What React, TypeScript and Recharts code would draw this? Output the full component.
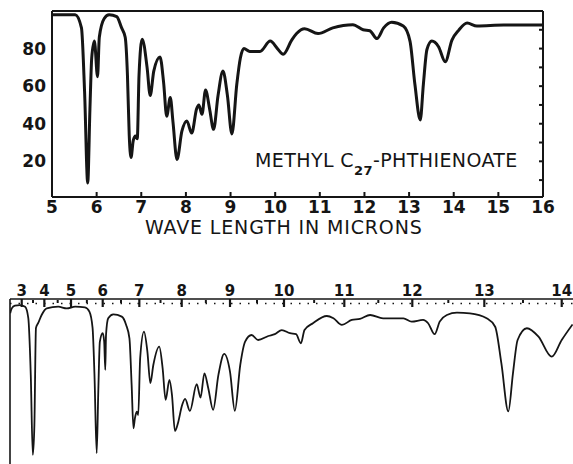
import { LineChart, Line, XAxis, YAxis, ReferenceLine } from "recharts";

// upper trace: methyl C27-phthienoate, linear wavelength scale
const topWave = [
  5.0, 5.3, 5.52, 5.66, 5.73, 5.8, 5.85, 5.89, 5.95, 6.02, 6.06, 6.17, 6.28, 6.45, 6.56, 6.64,
  6.69, 6.73, 6.77, 6.82, 6.87, 6.91, 6.95, 7.02, 7.13, 7.2, 7.28, 7.42, 7.5, 7.57, 7.65, 7.71,
  7.8, 7.91, 8.02, 8.13, 8.24, 8.29, 8.36, 8.44, 8.53, 8.62, 8.72, 8.83, 8.93, 9.03, 9.14, 9.22,
  9.3, 9.43, 9.66, 9.89, 10.05, 10.18, 10.37, 10.48, 10.66, 10.96, 11.29, 11.74, 11.97, 12.12,
  12.28, 12.43, 12.61, 12.87, 13.02, 13.13, 13.25, 13.32, 13.4, 13.51, 13.66, 13.81, 13.96,
  14.11, 14.3, 14.52, 15.12, 16.0,
];
const topT = [
  98, 98, 98, 91, 57, 8.5, 48, 75, 84, 65, 86, 96, 98, 97, 91, 86,
  66, 34, 22, 31, 33.5, 32, 66, 85, 70, 55, 68, 75.5, 62, 44, 54, 41,
  21, 36, 41.5, 35, 48, 50, 45, 58, 48, 37, 55, 68, 55, 34.5, 61, 75,
  80, 78.5, 78.5, 84, 80, 77, 84.5, 88, 90.5, 88, 91, 92.7, 90, 89.5,
  85.3, 91, 94, 92, 84, 61, 42, 61, 79.5, 84, 81, 73, 84.5,
  89.7, 93.6, 92, 92.5, 92.5,
];

// lower trace: same ester, prism instrument
const lowWave = [
  2.49, 2.56, 2.7, 2.92, 3.15, 3.29, 3.4, 3.49, 3.56, 3.63, 3.73, 3.88, 4.09, 4.52, 4.84, 5.13,
  5.44, 5.58, 5.68, 5.74, 5.81, 5.86, 5.91, 6.0, 6.04, 6.07, 6.09, 6.15, 6.29, 6.52, 6.64, 6.73,
  6.79, 6.84, 6.88, 6.93, 6.97, 7.02, 7.11, 7.19, 7.26, 7.33, 7.47, 7.55, 7.62, 7.71, 7.77, 7.84,
  7.92, 8.0, 8.07, 8.17, 8.31, 8.39, 8.47, 8.55, 8.65, 8.76, 8.88, 9.0, 9.09, 9.19, 9.28, 9.4,
  9.52, 9.71, 9.83, 9.96, 10.1, 10.2, 10.28, 10.34, 10.48, 10.71, 10.82, 10.96, 11.11, 11.23,
  11.38, 11.57, 11.87, 11.99, 12.15, 12.22, 12.31, 12.38, 12.48, 12.62, 12.8, 13.03, 13.14,
  13.22, 13.31, 13.37, 13.43, 13.55, 13.7, 13.87, 14.0, 14.14,
];
const lowT = [
  94, 97, 98.6, 99, 98, 91.2, 56.8, 8.5, 26.6, 85.2, 88.2, 93, 97, 98, 97, 98,
  97.6, 95, 85.2, 56.8, 9.5, 46.7, 76.9, 82, 76.9, 59.8, 80.9, 91, 93.4, 92, 87, 78.9,
  50.8, 24.6, 30.7, 34.6, 32.6, 67, 82.9, 70.9, 51.8, 62.8, 73.9, 60.8, 41.7, 53.8, 44.7, 23,
  28.6, 37.7, 42.3, 35.1, 51.2, 43.1, 57.8, 48.8, 35.7, 56.8, 69.5, 58.8, 35.1, 62.8, 76.9, 80.9,
  77.9, 80.3, 81.4, 83.9, 82, 81.4, 75.9, 83.9, 88, 92.4, 91, 87, 90, 90.6,
  93, 91, 91, 89, 90, 88, 81.4, 89, 93, 94.4, 94, 91, 85.9,
  63.9, 34.8, 57.8, 77.9, 85, 79.9, 67.8, 77.9, 87.3,
];

// prism drum calibration (wavelength -> drum reading, 3 µ = 0, 14 µ = 100)
const calWave = [3, 4, 5, 6, 7, 8, 9, 10, 11, 12, 13, 14];
const calDrum = [0, 4.19, 9.13, 15.0, 21.78, 29.63, 38.57, 48.57, 59.74, 72.33, 85.67, 100];

const topTicks = [5, 6, 7, 8, 9, 10, 11, 12, 13, 14, 15, 16];
const pctTicks = [10, 20, 30, 40, 50, 60, 70, 80, 90];
const lowTickWaves = [3, 3.5, 4, 4.5, 5, 5.5, 6, 6.5, 7, 7.5, 8, 8.5, 9, 9.5, 10, 10.5, 11, 11.5, 12, 12.5, 13, 13.5, 14];

function interp(v: number, xs: number[], ys: number[]) {
  let i = 0;
  while (i < xs.length - 2 && v > xs[i + 1]) i++;
  const f = (v - xs[i]) / (xs[i + 1] - xs[i]);
  return ys[i] + f * (ys[i + 1] - ys[i]);
}
const toDrum = (w: number) => interp(w, calWave, calDrum);
const fromDrum = (d: number) => interp(d, calDrum, calWave);

const topData = topWave.map((w, i) => ({ w, t: topT[i] }));
const lowData = lowWave.map((w, i) => ({ d: toDrum(w), t: lowT[i] }));
const lowTicks = lowTickWaves.map(toDrum);

const FONT = "'DejaVu Sans', sans-serif";
const INK = "#151515";

// label below the axis, small mark pointing up into the plot
function MicronTick(props: any) {
  const { x, y, payload } = props;
  return (
    <g>
      <line x1={x} x2={x} y1={y - 3} y2={y - 8} stroke={INK} strokeWidth={2} />
      <text x={x} y={y + 12.5} textAnchor="middle" fontFamily={FONT} fontWeight="bold" fontSize={17} fill={INK}>
        {payload.value}
      </text>
    </g>
  );
}

function DrumTick(props: any) {
  const { x, y, payload } = props;
  const w = Math.round(fromDrum(payload.value) * 2) / 2;
  if (w % 1 !== 0) {
    return <line x1={x} x2={x} y1={y + 1} y2={y + 4} stroke={INK} strokeWidth={2} />;
  }
  return (
    <g>
      <line x1={x} x2={x} y1={y} y2={y + 8} stroke={INK} strokeWidth={2.2} />
      <text x={x} y={y - 3} textAnchor="middle" fontFamily={FONT} fontWeight="bold" fontSize={15} fill={INK}>
        {w}
      </text>
    </g>
  );
}

export default function App() {
  return (
    <div style={{ position: "absolute", left: 0, top: 0, width: 573, height: 464, overflow: "hidden", background: "#fff" }}>
      <div style={{ position: "absolute", left: 0, top: 0 }}>
        <LineChart width={573} height={240} data={topData} margin={{ top: 11, right: 30, bottom: 0, left: 0 }}>
          <XAxis
            dataKey="w"
            type="number"
            domain={[5, 16]}
            ticks={topTicks}
            interval={0}
            allowDataOverflow
            height={43}
            stroke={INK}
            strokeWidth={2}
            tickLine={false}
            tickSize={3}
            tickMargin={0}
            tick={<MicronTick />}
          />
          <YAxis
            type="number"
            domain={[1, 100]}
            ticks={pctTicks}
            interval={0}
            allowDataOverflow
            width={52}
            stroke={INK}
            strokeWidth={2}
            tickLine={false}
            tickSize={4}
            tickFormatter={(v: number) => (v % 20 === 0 ? String(v) : "")}
            tick={{ fill: INK, fontSize: 17, fontWeight: "bold", fontFamily: FONT }}
          />
          <YAxis
            yAxisId="r"
            orientation="right"
            type="number"
            domain={[1, 100]}
            ticks={pctTicks}
            interval={0}
            allowDataOverflow
            width={30}
            mirror
            stroke={INK}
            strokeWidth={2}
            tickSize={4}
            tickFormatter={() => ""}
          />
          <ReferenceLine y={100} stroke={INK} strokeWidth={2} ifOverflow="visible" />
          <Line type="monotone" dataKey="t" stroke={INK} strokeWidth={3} dot={false} isAnimationActive={false} />
        </LineChart>
      </div>

      <div
        style={{
          position: "absolute", left: 255, top: 150.8, fontFamily: FONT, fontSize: 19, lineHeight: "19px",
          color: INK, whiteSpace: "nowrap", letterSpacing: 0.4,
        }}
      >
        METHYL C<span style={{ position: "relative", top: 8, fontSize: 13, fontWeight: "bold" }}>27</span>-PHTHIENOATE
      </div>
      <div
        style={{
          position: "absolute", left: 145, top: 217.8, fontFamily: FONT, fontSize: 19, lineHeight: "19px",
          color: INK, whiteSpace: "nowrap", letterSpacing: 0.85,
        }}
      >
        WAVE LENGTH IN MICRONS
      </div>

      <div style={{ position: "absolute", left: 0, top: 250 }}>
        <LineChart width={573} height={230} data={lowData} margin={{ top: 48, right: 0, bottom: 11, left: 9 }}>
          <XAxis
            dataKey="d"
            type="number"
            orientation="top"
            domain={[-2.17, 102.09]}
            ticks={lowTicks}
            interval={0}
            allowDataOverflow
            height={1}
            stroke={INK}
            strokeWidth={1.6}
            tickLine={false}
            tickSize={0}
            tickMargin={0}
            tick={<DrumTick />}
          />
          <YAxis
            type="number"
            domain={[0, 102.65]}
            allowDataOverflow
            width={1}
            stroke={INK}
            strokeWidth={1.6}
            tick={false}
            tickLine={false}
          />
          <ReferenceLine y={100} stroke={INK} strokeWidth={1.5} strokeDasharray="1.5 7" />
          <Line type="monotone" dataKey="t" stroke={INK} strokeWidth={1.8} dot={false} isAnimationActive={false} />
        </LineChart>
      </div>
    </div>
  );
}
